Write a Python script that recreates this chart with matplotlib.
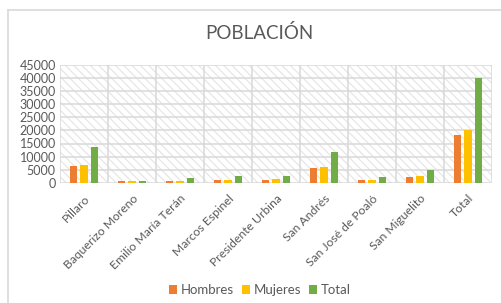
import matplotlib
matplotlib.use("Agg")
import matplotlib.pyplot as plt
import numpy as np
from matplotlib.patches import Rectangle

categories = ["Pillaro", "Baquerizo Moreno", "Emilio María Terán", "Marcos Espinel",
              "Presidente Urbina", "San Andrés", "San José de Poaló", "San Miguelito", "Total"]
hombres = [6500, 650, 850, 1250, 1150, 5600, 1050, 2300, 18200]
mujeres = [7000, 700, 900, 1300, 1700, 6000, 1000, 2600, 20200]
total = [13500, 750, 1750, 2750, 2800, 11600, 2100, 4900, 39900]
series_names = ["Hombres", "Mujeres", "Total"]
colors = ["#ED7D31", "#FFC000", "#70AD47"]
yticks = list(range(0, 45001, 5000))

plt.rcParams['font.family'] = ['Lato', 'DejaVu Sans']
plt.rcParams['hatch.linewidth'] = 0.8
fig = plt.figure(figsize=(5.02, 3.03), dpi=100)
W, H = 502, 303
ax = fig.add_axes([60 / W, 1 - 183 / H, (492 - 60) / W, (183 - 64.5) / H])

# chart frame lines (top and left)
fig.add_artist(plt.Line2D([8 / W, 1], [1 - 10 / H, 1 - 10 / H], color="#d9d9d9", lw=1.2))
fig.add_artist(plt.Line2D([8 / W, 8 / W], [0, 1 - 10 / H], color="#d9d9d9", lw=1.2))

x = np.arange(len(categories))
bw = 0.156
step = 0.222
ax.set_xlim(-0.5, len(categories) - 0.5)
ax.set_ylim(0, 45000)

# hatched background
bg = Rectangle((0, 0), 1, 1, transform=ax.transAxes, facecolor="white",
               edgecolor="#e4e4e4", hatch="\\\\\\\\", lw=0, zorder=0)
ax.add_patch(bg)

for yv in yticks:
    ax.axhline(yv, color="#d9d9d9", lw=1.1, zorder=1)
for b in np.arange(-0.5, len(categories), 1.0):
    ax.axvline(b, color="#d9d9d9", lw=1.1, zorder=1)

for i, (vals, c, n) in enumerate(zip([hombres, mujeres, total], colors, series_names)):
    ax.bar(x + (i - 1) * step, vals, width=bw, color=c, label=n, zorder=3)

for s in ax.spines.values():
    s.set_visible(False)
ax.set_yticks(yticks)
ax.set_yticklabels([str(v) for v in yticks], fontsize=9, color="#595959")
ax.set_xticks(x)
ax.set_xticklabels(categories, rotation=45, ha="right", rotation_mode="anchor",
                   fontsize=8.7, color="#595959")
ax.tick_params(axis="both", length=0, pad=3)
ax.tick_params(axis="x", pad=7)

fig.text(259 / W, 1 - 33 / H, "POBLACIÓN", ha="center", va="center",
         fontsize=13.5, color="#595959")

leg = fig.legend(loc="center", bbox_to_anchor=(260 / W, 1 - 290 / H), ncol=3,
                 frameon=False, fontsize=9.5, handlelength=0.6, handleheight=0.6,
                 handletextpad=0.3, columnspacing=0.6)
for t in leg.get_texts():
    t.set_color("#595959")

fig.savefig("out.png", dpi=100)
